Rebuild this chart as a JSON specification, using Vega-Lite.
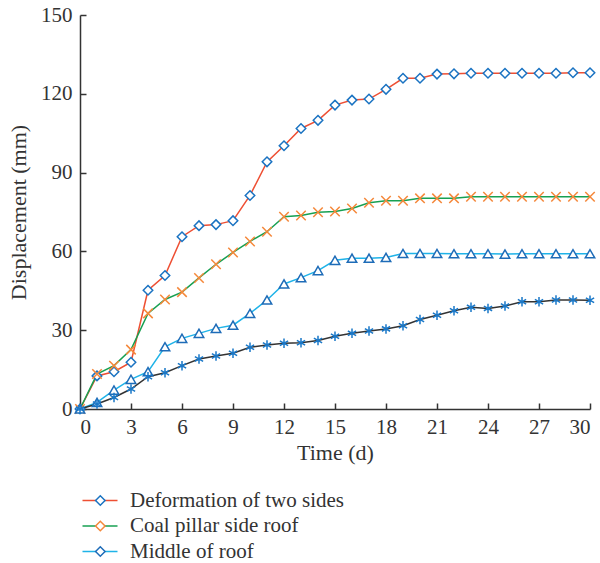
{
  "$schema": "https://vega.github.io/schema/vega-lite/v6.json",
  "width": 510,
  "height": 394,
  "autosize": {"type": "none"},
  "padding": {"left": 80, "top": 15, "right": 10, "bottom": 154},
  "background": "white",
  "config": {
    "font": "Liberation Serif",
    "view": {"stroke": null},
    "axis": {
      "grid": false,
      "domainColor": "#333333",
      "tickColor": "#333333",
      "labelColor": "#333333",
      "titleColor": "#333333",
      "labelFont": "Liberation Serif",
      "titleFont": "Liberation Serif",
      "labelFontSize": 21,
      "titleFontSize": 22,
      "titleFontWeight": "normal",
      "domainWidth": 1.5,
      "tickWidth": 1.5,
      "tickSize": -6
    },
    "legend": {
      "labelFont": "Liberation Serif",
      "labelFontSize": 21,
      "labelColor": "#333333",
      "labelLimit": 400,
      "padding": 0,
      "rowPadding": 3.5,
      "title": null
    }
  },
  "data": {
    "values": [
      {"series": "Deformation of two sides", "time": 0, "value": 0},
      {"series": "Deformation of two sides", "time": 1, "value": 12.6},
      {"series": "Deformation of two sides", "time": 2, "value": 14.2},
      {"series": "Deformation of two sides", "time": 3, "value": 17.8},
      {"series": "Deformation of two sides", "time": 4, "value": 45.2},
      {"series": "Deformation of two sides", "time": 5, "value": 50.8},
      {"series": "Deformation of two sides", "time": 6, "value": 65.6},
      {"series": "Deformation of two sides", "time": 7, "value": 69.8},
      {"series": "Deformation of two sides", "time": 8, "value": 70.2},
      {"series": "Deformation of two sides", "time": 9, "value": 71.7},
      {"series": "Deformation of two sides", "time": 10, "value": 81.3},
      {"series": "Deformation of two sides", "time": 11, "value": 94.1},
      {"series": "Deformation of two sides", "time": 12, "value": 100.2},
      {"series": "Deformation of two sides", "time": 13, "value": 106.8},
      {"series": "Deformation of two sides", "time": 14, "value": 109.9},
      {"series": "Deformation of two sides", "time": 15, "value": 115.7},
      {"series": "Deformation of two sides", "time": 16, "value": 117.6},
      {"series": "Deformation of two sides", "time": 17, "value": 118.0},
      {"series": "Deformation of two sides", "time": 18, "value": 121.7},
      {"series": "Deformation of two sides", "time": 19, "value": 125.9},
      {"series": "Deformation of two sides", "time": 20, "value": 125.9},
      {"series": "Deformation of two sides", "time": 21, "value": 127.5},
      {"series": "Deformation of two sides", "time": 22, "value": 127.6},
      {"series": "Deformation of two sides", "time": 23, "value": 127.8},
      {"series": "Deformation of two sides", "time": 24, "value": 127.8},
      {"series": "Deformation of two sides", "time": 25, "value": 127.8},
      {"series": "Deformation of two sides", "time": 26, "value": 127.8},
      {"series": "Deformation of two sides", "time": 27, "value": 127.8},
      {"series": "Deformation of two sides", "time": 28, "value": 127.8},
      {"series": "Deformation of two sides", "time": 29, "value": 128.0},
      {"series": "Deformation of two sides", "time": 30, "value": 128.0},
      {"series": "Coal pillar side roof", "time": 0, "value": 0},
      {"series": "Coal pillar side roof", "time": 1, "value": 13.3},
      {"series": "Coal pillar side roof", "time": 2, "value": 16.5},
      {"series": "Coal pillar side roof", "time": 3, "value": 22.6},
      {"series": "Coal pillar side roof", "time": 4, "value": 36.4},
      {"series": "Coal pillar side roof", "time": 5, "value": 41.7},
      {"series": "Coal pillar side roof", "time": 6, "value": 44.5},
      {"series": "Coal pillar side roof", "time": 7, "value": 49.9},
      {"series": "Coal pillar side roof", "time": 8, "value": 55.1},
      {"series": "Coal pillar side roof", "time": 9, "value": 59.6},
      {"series": "Coal pillar side roof", "time": 10, "value": 63.8},
      {"series": "Coal pillar side roof", "time": 11, "value": 67.5},
      {"series": "Coal pillar side roof", "time": 12, "value": 73.2},
      {"series": "Coal pillar side roof", "time": 13, "value": 73.7},
      {"series": "Coal pillar side roof", "time": 14, "value": 74.9},
      {"series": "Coal pillar side roof", "time": 15, "value": 75.2},
      {"series": "Coal pillar side roof", "time": 16, "value": 76.3},
      {"series": "Coal pillar side roof", "time": 17, "value": 78.5},
      {"series": "Coal pillar side roof", "time": 18, "value": 79.3},
      {"series": "Coal pillar side roof", "time": 19, "value": 79.3},
      {"series": "Coal pillar side roof", "time": 20, "value": 80.2},
      {"series": "Coal pillar side roof", "time": 21, "value": 80.2},
      {"series": "Coal pillar side roof", "time": 22, "value": 80.2},
      {"series": "Coal pillar side roof", "time": 23, "value": 80.8},
      {"series": "Coal pillar side roof", "time": 24, "value": 80.8},
      {"series": "Coal pillar side roof", "time": 25, "value": 80.8},
      {"series": "Coal pillar side roof", "time": 26, "value": 80.8},
      {"series": "Coal pillar side roof", "time": 27, "value": 80.8},
      {"series": "Coal pillar side roof", "time": 28, "value": 80.8},
      {"series": "Coal pillar side roof", "time": 29, "value": 80.8},
      {"series": "Coal pillar side roof", "time": 30, "value": 80.8},
      {"series": "Middle of roof", "time": 0, "value": 0},
      {"series": "Middle of roof", "time": 1, "value": 2.5},
      {"series": "Middle of roof", "time": 2, "value": 7.2},
      {"series": "Middle of roof", "time": 3, "value": 11.3},
      {"series": "Middle of roof", "time": 4, "value": 14.2},
      {"series": "Middle of roof", "time": 5, "value": 23.7},
      {"series": "Middle of roof", "time": 6, "value": 26.9},
      {"series": "Middle of roof", "time": 7, "value": 28.8},
      {"series": "Middle of roof", "time": 8, "value": 30.7},
      {"series": "Middle of roof", "time": 9, "value": 31.9},
      {"series": "Middle of roof", "time": 10, "value": 36.4},
      {"series": "Middle of roof", "time": 11, "value": 41.5},
      {"series": "Middle of roof", "time": 12, "value": 47.6},
      {"series": "Middle of roof", "time": 13, "value": 50.0},
      {"series": "Middle of roof", "time": 14, "value": 52.7},
      {"series": "Middle of roof", "time": 15, "value": 56.6},
      {"series": "Middle of roof", "time": 16, "value": 57.4},
      {"series": "Middle of roof", "time": 17, "value": 57.4},
      {"series": "Middle of roof", "time": 18, "value": 57.7},
      {"series": "Middle of roof", "time": 19, "value": 59.2},
      {"series": "Middle of roof", "time": 20, "value": 59.2},
      {"series": "Middle of roof", "time": 21, "value": 59.2},
      {"series": "Middle of roof", "time": 22, "value": 59.1},
      {"series": "Middle of roof", "time": 23, "value": 59.1},
      {"series": "Middle of roof", "time": 24, "value": 59.1},
      {"series": "Middle of roof", "time": 25, "value": 59.0},
      {"series": "Middle of roof", "time": 26, "value": 59.1},
      {"series": "Middle of roof", "time": 27, "value": 59.1},
      {"series": "Middle of roof", "time": 28, "value": 59.1},
      {"series": "Middle of roof", "time": 29, "value": 59.1},
      {"series": "Middle of roof", "time": 30, "value": 59.1},
      {"series": "Solid coal side roof", "time": 0, "value": 0},
      {"series": "Solid coal side roof", "time": 1, "value": 1.9},
      {"series": "Solid coal side roof", "time": 2, "value": 4.4},
      {"series": "Solid coal side roof", "time": 3, "value": 7.6},
      {"series": "Solid coal side roof", "time": 4, "value": 12.3},
      {"series": "Solid coal side roof", "time": 5, "value": 13.8},
      {"series": "Solid coal side roof", "time": 6, "value": 16.5},
      {"series": "Solid coal side roof", "time": 7, "value": 19.0},
      {"series": "Solid coal side roof", "time": 8, "value": 20.2},
      {"series": "Solid coal side roof", "time": 9, "value": 21.2},
      {"series": "Solid coal side roof", "time": 10, "value": 23.5},
      {"series": "Solid coal side roof", "time": 11, "value": 24.4},
      {"series": "Solid coal side roof", "time": 12, "value": 25.0},
      {"series": "Solid coal side roof", "time": 13, "value": 25.2},
      {"series": "Solid coal side roof", "time": 14, "value": 26.1},
      {"series": "Solid coal side roof", "time": 15, "value": 27.7},
      {"series": "Solid coal side roof", "time": 16, "value": 28.8},
      {"series": "Solid coal side roof", "time": 17, "value": 29.7},
      {"series": "Solid coal side roof", "time": 18, "value": 30.5},
      {"series": "Solid coal side roof", "time": 19, "value": 31.7},
      {"series": "Solid coal side roof", "time": 20, "value": 34.1},
      {"series": "Solid coal side roof", "time": 21, "value": 35.7},
      {"series": "Solid coal side roof", "time": 22, "value": 37.4},
      {"series": "Solid coal side roof", "time": 23, "value": 38.7},
      {"series": "Solid coal side roof", "time": 24, "value": 38.3},
      {"series": "Solid coal side roof", "time": 25, "value": 39.2},
      {"series": "Solid coal side roof", "time": 26, "value": 40.8},
      {"series": "Solid coal side roof", "time": 27, "value": 40.8},
      {"series": "Solid coal side roof", "time": 28, "value": 41.5},
      {"series": "Solid coal side roof", "time": 29, "value": 41.5},
      {"series": "Solid coal side roof", "time": 30, "value": 41.4}
    ]
  },
  "encoding": {
    "x": {
      "field": "time",
      "type": "quantitative",
      "scale": {"domain": [0, 30], "nice": false},
      "axis": {"title": "Time (d)", "values": [0, 3, 6, 9, 12, 15, 18, 21, 24, 27, 30], "labelPadding": 13, "titlePadding": 5}
    },
    "y": {
      "field": "value",
      "type": "quantitative",
      "scale": {"domain": [0, 150], "nice": false},
      "axis": {"title": "Displacement (mm)", "values": [0, 30, 60, 90, 120, 150], "labelPadding": 14, "titlePadding": 10}
    }
  },
  "layer": [
    {
      "mark": {"type": "line", "strokeWidth": 1.5},
      "encoding": {
        "color": {
          "field": "series",
          "type": "nominal",
          "scale": {
            "domain": ["Deformation of two sides", "Coal pillar side roof", "Middle of roof", "Solid coal side roof"],
            "range": ["#ee4f33", "#17a052", "#1fb3e8", "#333333"]
          },
          "legend": {
            "orient": "none",
            "legendX": 9.5,
            "legendY": 475,
            "symbolType": "M-3.5,0L3.5,0",
            "symbolSize": 100,
            "symbolStrokeWidth": 1.5,
            "labelOffset": 19.5
          }
        }
      }
    },
    {
      "mark": {"type": "point", "filled": true, "fill": "white", "strokeWidth": 1.5, "size": 90, "opacity": 1},
      "encoding": {
        "shape": {
          "field": "series",
          "type": "nominal",
          "sort": ["Deformation of two sides", "Coal pillar side roof", "Middle of roof", "Solid coal side roof"],
          "scale": {"range": ["diamond", "M-1,-1L1,1M-1,1L1,-1", "triangle-up", "M0,-1L0,1M-0.87,-0.5L0.87,0.5M-0.87,0.5L0.87,-0.5"]},
          "legend": null
        },
        "stroke": {
          "field": "series",
          "type": "nominal",
          "sort": ["Deformation of two sides", "Coal pillar side roof", "Middle of roof", "Solid coal side roof"],
          "scale": {"range": ["#1a73c2", "#f5883a", "#1e6cb8", "#1a78c8"]},
          "legend": {
            "orient": "none",
            "legendX": 9.8,
            "legendY": 475,
            "symbolType": "diamond",
            "symbolStrokeWidth": 1.5,
            "symbolSize": 90,
            "symbolFillColor": "white",
            "labelOpacity": 0
          }
        }
      }
    }
  ]
}
